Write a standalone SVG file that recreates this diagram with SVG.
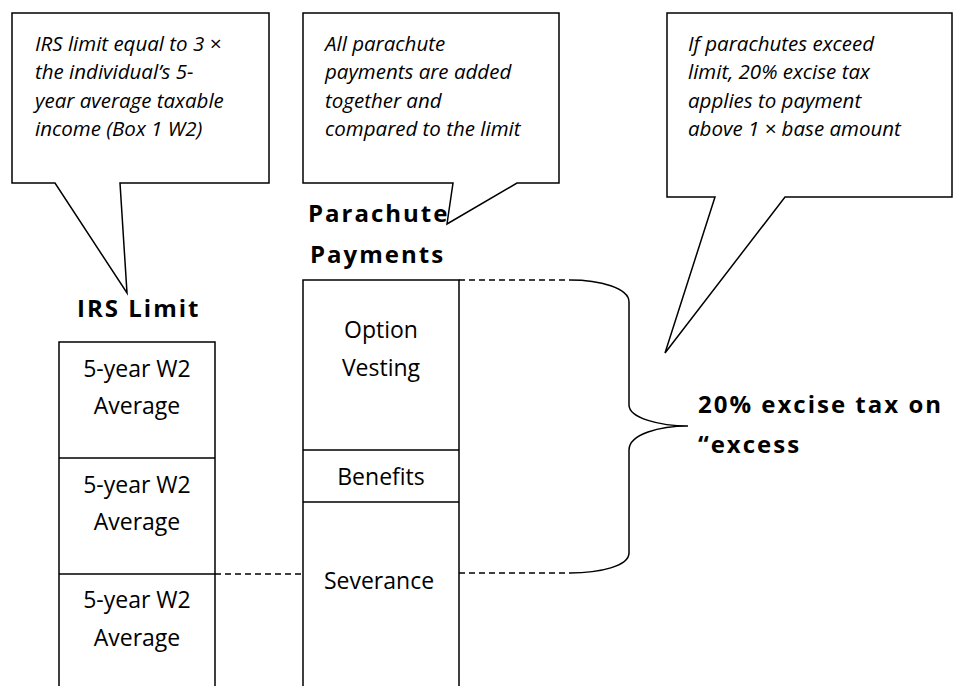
<svg xmlns="http://www.w3.org/2000/svg" width="958" height="686" viewBox="0 0 958 686">
<style>
.bg{fill:#fff}
.shape{fill:#fff;stroke:#000;stroke-width:1.5}
.line{fill:none;stroke:#000;stroke-width:1.5}
.dash{fill:none;stroke:#000;stroke-width:1.3;stroke-dasharray:6 4}
.note{font-family:"Open Sans",Lato,sans-serif;font-style:italic;font-size:20.5px;fill:#000}
.cell{font-family:"Open Sans",Lato,sans-serif;font-size:23px;fill:#000;text-anchor:middle}
.head{font-family:"Open Sans",Lato,sans-serif;font-weight:bold;font-size:24px;letter-spacing:2px;fill:#000}
</style>
<rect class="bg" x="0" y="0" width="958" height="686"/>
<g id="callout-irs">
<path class="shape" d="M12,13 H269 V183 H120 L127,293 L55,183 H12 Z"/>
<text class="note" x="35" y="51">IRS limit equal to 3 ×</text>
<text class="note" x="35" y="79">the individual’s 5-</text>
<text class="note" x="35" y="108">year average taxable</text>
<text class="note" x="35" y="136">income (Box 1 W2)</text>
</g>
<g id="callout-parachute">
<path class="shape" d="M303,13 H559 V183 H517 L447,224 L453,183 H303 Z"/>
<text class="note" x="325" y="51">All parachute</text>
<text class="note" x="325" y="79">payments are added</text>
<text class="note" x="325" y="108">together and</text>
<text class="note" x="325" y="136">compared to the limit</text>
</g>
<g id="callout-excise">
<path class="shape" d="M667,13 H952 V197 H785 L665,353 L715,197 H667 Z"/>
<text class="note" x="688" y="51">If parachutes exceed</text>
<text class="note" x="688" y="79">limit, 20% excise tax</text>
<text class="note" x="688" y="108">applies to payment</text>
<text class="note" x="688" y="136">above 1 × base amount</text>
</g>
<g id="label-irs">
<text class="head" x="77" y="317">IRS Limit</text>
</g>
<g id="label-parachute">
<text class="head" x="308" y="222">Parachute</text>
<text class="head" x="310" y="263">Payments</text>
</g>
<g id="irs-column">
<path class="line" d="M59,686 V342 H215 V686 M59,458 H215 M59,574 H215"/>
<text class="cell" x="137" y="377">5-year W2</text>
<text class="cell" x="137" y="414">Average</text>
<text class="cell" x="137" y="493">5-year W2</text>
<text class="cell" x="137" y="530">Average</text>
<text class="cell" x="137" y="608">5-year W2</text>
<text class="cell" x="137" y="646">Average</text>
</g>
<g id="parachute-column">
<path class="line" d="M303,686 V280 H459 V686 M303,450 H459 M303,502 H459"/>
<text class="cell" x="381" y="338">Option</text>
<text class="cell" x="381" y="376">Vesting</text>
<text class="cell" x="381" y="485">Benefits</text>
<text class="cell" x="379" y="589">Severance</text>
</g>
<g id="connectors">
<path class="dash" d="M459,280 H570"/>
<path class="dash" d="M459,573 H570"/>
<path class="dash" d="M215,574 H303"/>
<path class="line" d="M570,280 C600,280 629,288 629,302 V405 C629,418 660,426 688,426 C660,426 629,434 629,450 V553 C629,566 600,573 570,573"/>
</g>
<g id="label-excise">
<text class="head" x="698" y="413">20% excise tax on</text>
<text class="head" x="698" y="453">“excess</text>
</g>
</svg>
